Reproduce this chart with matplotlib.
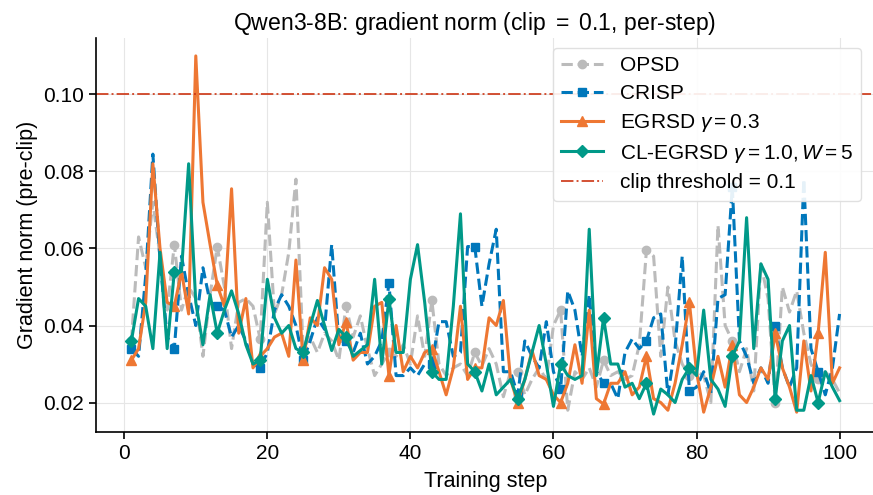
import numpy as np
import matplotlib
matplotlib.use('Agg')
import matplotlib.pyplot as plt

plt.rcParams['font.family'] = ['Liberation Sans', 'DejaVu Sans']
plt.rcParams['mathtext.fontset'] = 'custom'
plt.rcParams['mathtext.rm'] = 'Liberation Sans'
plt.rcParams['mathtext.it'] = 'Liberation Sans:italic'
plt.rcParams['font.size'] = 15

steps = np.arange(1, 101)

opsd = [0.036, 0.063, 0.055, 0.072, 0.058, 0.044, 0.061, 0.044, 0.050, 0.047,
        0.032, 0.048, 0.0605, 0.050, 0.034, 0.046, 0.047, 0.045, 0.0365, 0.072,
        0.043, 0.048, 0.059, 0.078, 0.034, 0.037, 0.033, 0.038, 0.036, 0.031,
        0.045, 0.037, 0.0425, 0.034, 0.027, 0.030, 0.033, 0.032, 0.035, 0.030,
        0.0425, 0.032, 0.0465, 0.030, 0.027, 0.029, 0.030, 0.027, 0.033, 0.0295,
        0.034, 0.030, 0.0215, 0.028, 0.028, 0.022, 0.026, 0.029, 0.026, 0.040,
        0.044, 0.018, 0.028, 0.026, 0.029, 0.024, 0.031, 0.027, 0.028, 0.026,
        0.027, 0.035, 0.0596, 0.058, 0.032, 0.050, 0.036, 0.030, 0.027, 0.028,
        0.027, 0.020, 0.066, 0.040, 0.036, 0.028, 0.034, 0.023, 0.056, 0.047,
        0.020, 0.050, 0.0435, 0.049, 0.038, 0.030, 0.026, 0.028, 0.026, 0.0225]

crisp = [0.034, 0.032, 0.053, 0.0845, 0.057, 0.037, 0.034, 0.058, 0.048, 0.040,
         0.055, 0.046, 0.045, 0.044, 0.037, 0.040, 0.036, 0.030, 0.029, 0.033,
         0.044, 0.048, 0.045, 0.040, 0.031, 0.036, 0.042, 0.039, 0.061, 0.036,
         0.036, 0.033, 0.038, 0.030, 0.032, 0.036, 0.051, 0.027, 0.027, 0.029,
         0.027, 0.030, 0.030, 0.041, 0.041, 0.032, 0.033, 0.0605, 0.0605, 0.045,
         0.056, 0.065, 0.028, 0.028, 0.022, 0.036, 0.032, 0.029, 0.041, 0.028,
         0.0235, 0.049, 0.044, 0.032, 0.048, 0.028, 0.025, 0.025, 0.021, 0.033,
         0.0365, 0.034, 0.036, 0.042, 0.043, 0.022, 0.034, 0.058, 0.023, 0.024,
         0.028, 0.0225, 0.047, 0.048, 0.076, 0.036, 0.032, 0.025, 0.029, 0.025,
         0.040, 0.029, 0.024, 0.029, 0.078, 0.034, 0.028, 0.022, 0.029, 0.043]

egrsd = [0.031, 0.034, 0.046, 0.082, 0.060, 0.046, 0.045, 0.054, 0.043, 0.110,
         0.072, 0.061, 0.0505, 0.045, 0.0755, 0.038, 0.047, 0.029, 0.032, 0.034,
         0.037, 0.038, 0.032, 0.057, 0.031, 0.042, 0.040, 0.055, 0.052, 0.035,
         0.041, 0.031, 0.033, 0.033, 0.045, 0.046, 0.027, 0.040, 0.028, 0.032,
         0.029, 0.033, 0.034, 0.028, 0.022, 0.029, 0.045, 0.026, 0.029, 0.029,
         0.042, 0.040, 0.0465, 0.026, 0.020, 0.026, 0.0335, 0.027, 0.026, 0.022,
         0.020, 0.025, 0.035, 0.025, 0.044, 0.021, 0.0196, 0.025, 0.025, 0.028,
         0.022, 0.024, 0.032, 0.021, 0.020, 0.018, 0.025, 0.035, 0.046, 0.028,
         0.0175, 0.024, 0.032, 0.024, 0.035, 0.022, 0.020, 0.024, 0.029, 0.026,
         0.038, 0.029, 0.024, 0.0175, 0.036, 0.023, 0.038, 0.059, 0.025, 0.029]

cl_egrsd = [0.036, 0.047, 0.045, 0.034, 0.059, 0.034, 0.054, 0.054, 0.082, 0.046,
            0.035, 0.048, 0.038, 0.044, 0.049, 0.043, 0.035, 0.030, 0.031, 0.052,
            0.042, 0.038, 0.040, 0.034, 0.033, 0.040, 0.0465, 0.040, 0.0335, 0.039,
            0.037, 0.032, 0.0335, 0.035, 0.052, 0.030, 0.047, 0.033, 0.033, 0.052,
            0.061, 0.046, 0.028, 0.026, 0.026, 0.045, 0.069, 0.030, 0.028, 0.023,
            0.030, 0.022, 0.024, 0.026, 0.021, 0.026, 0.033, 0.040, 0.030, 0.019,
            0.030, 0.027, 0.026, 0.027, 0.065, 0.027, 0.042, 0.030, 0.030, 0.024,
            0.025, 0.021, 0.025, 0.017, 0.0235, 0.022, 0.020, 0.026, 0.029, 0.027,
            0.044, 0.026, 0.0235, 0.019, 0.032, 0.036, 0.068, 0.034, 0.056, 0.052,
            0.021, 0.036, 0.040, 0.018, 0.018, 0.027, 0.020, 0.028, 0.024, 0.0205]

clip = 0.1

fig = plt.figure(figsize=(8.73, 4.95), dpi=100)
ax = fig.add_axes([96 / 873, 63 / 495, 779 / 873, 394 / 495])

ax.plot(steps, opsd, '--', color='#BBBBBB', lw=2.2, marker='o', ms=6, markevery=6, label='OPSD')
ax.plot(steps, crisp, '--', color='#0077BB', lw=2.2, marker='s', ms=6, markevery=6, label='CRISP')
ax.plot(steps, egrsd, '-', color='#EE7733', lw=2.2, marker='^', ms=7, markevery=6,
        label=r'EGRSD $\gamma = 0.3$')
ax.plot(steps, cl_egrsd, '-', color='#009988', lw=2.2, marker='D', ms=6, markevery=6,
        label=r'CL-EGRSD $\gamma = 1.0, W = 5$')
ax.axhline(clip, color='#CC3311', ls='-.', lw=1.4, alpha=0.85, label='clip threshold = 0.1')

# title sits a bit left of the axes centre in the reference
ax.set_title(r'Qwen3-8B: gradient norm (clip $=$ 0.1, per-step)', fontsize=16.6, x=0.4865)
ax.set_xlabel('Training step', fontsize=15.5, labelpad=6)
ax.set_ylabel('Gradient norm (pre-clip)', fontsize=15.5)
ax.grid(True, color='#e6e6e6', lw=0.8)
ax.set_axisbelow(True)
for s in ['top', 'right']:
    ax.spines[s].set_visible(False)
for s in ['left', 'bottom']:
    ax.spines[s].set_linewidth(1.2)
ax.tick_params(direction='out', length=5, width=1.2)

ax.legend(loc='upper right', bbox_to_anchor=(861 / 873, 1 - 48 / 495),
          bbox_transform=fig.transFigure, borderaxespad=0, framealpha=0.9,
          edgecolor='#dddddd', fontsize=15, labelspacing=0.42, handlelength=2.0)

fig.savefig('out.png', dpi=100)
